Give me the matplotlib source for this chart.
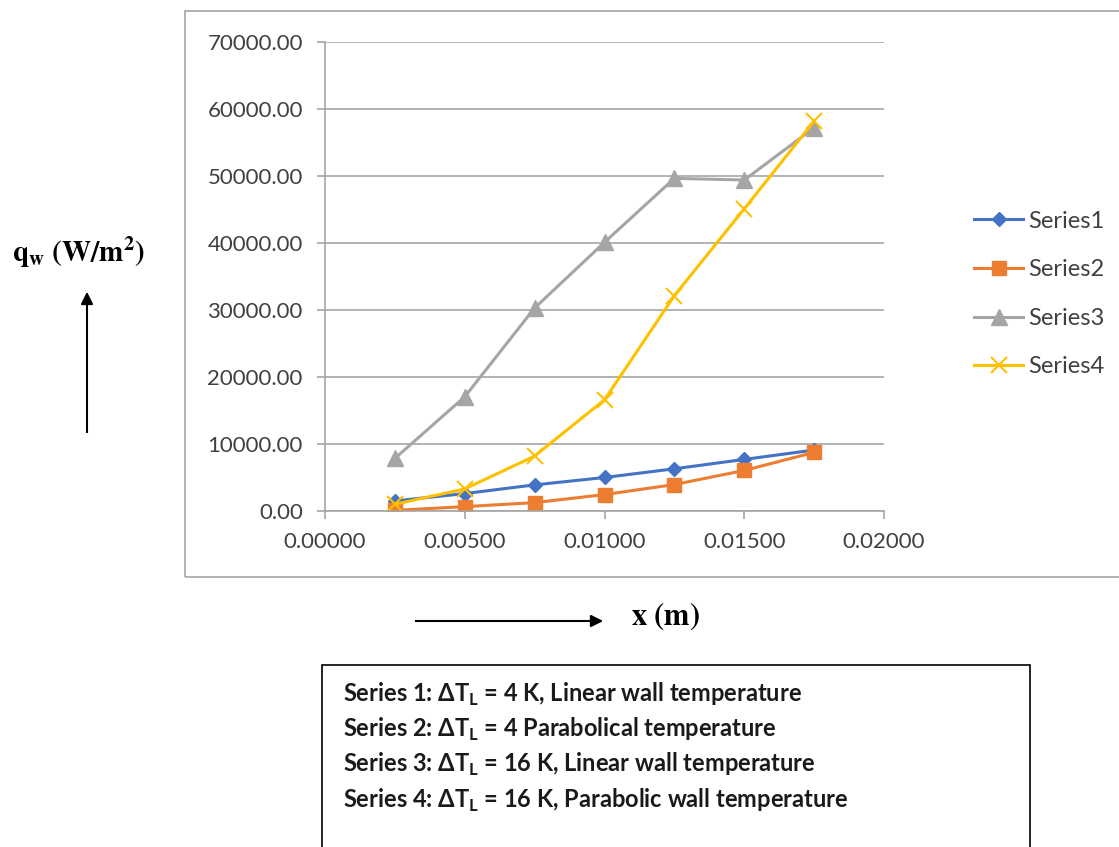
import matplotlib

matplotlib.use('Agg')
import matplotlib.pyplot as plt
from matplotlib.patches import Rectangle
from matplotlib.ticker import FormatStrFormatter, MultipleLocator

# wall heat flux along the plate, four wall temperature cases
x_pos = [0.0025, 0.0050, 0.0075, 0.0100, 0.0125, 0.0150, 0.0175]
series1 = [1500, 2600, 3900, 5000, 6300, 7700, 9100]
series2 = [100, 650, 1250, 2450, 3950, 6050, 8750]
series3 = [7850, 17050, 30300, 40100, 49650, 49400, 57200]
series4 = [1000, 3300, 8200, 16600, 32150, 45100, 58200]
series_names = ['Series1', 'Series2', 'Series3', 'Series4']
notes = [
    r'Series 1: $\Delta$T$_\mathbf{L}$ = 4 K, Linear wall temperature',
    r'Series 2: $\Delta$T$_\mathbf{L}$ = 4 Parabolical temperature',
    r'Series 3: $\Delta$T$_\mathbf{L}$ = 16 K, Linear wall temperature',
    r'Series 4: $\Delta$T$_\mathbf{L}$ = 16 K, Parabolic wall temperature',
]

W, H = 1119, 847
plt.rcParams['font.family'] = ['Lato', 'DejaVu Sans']
plt.rcParams['mathtext.fontset'] = 'custom'
plt.rcParams['mathtext.bf'] = 'Lato:bold'
plt.rcParams['mathtext.rm'] = 'Lato:bold'

fig = plt.figure(figsize=(W / 100, H / 100), dpi=100)


def fx(px):
    return px / W


def fy(py):
    return 1 - py / H


# chart frame
fig.patches.append(Rectangle((fx(185), fy(577)), fx(1125) - fx(185), fy(11) - fy(577),
                             transform=fig.transFigure, fill=False, ec='#a6a6a6', lw=1.2))

ax = fig.add_axes([fx(325), fy(511), fx(884) - fx(325), fy(42) - fy(511)])
grey = '#a6a6a6'
txt = '#404040'

ax.plot(x_pos, series1, color='#4472c4', lw=2.2, marker='D', ms=7, label=series_names[0])
ax.plot(x_pos, series2, color='#ed7d31', lw=2.2, marker='s', ms=10, label=series_names[1])
ax.plot(x_pos, series3, color='#a5a5a5', lw=2.2, marker='^', ms=11, label=series_names[2])
ax.plot(x_pos, series4, color='#ffc000', lw=2.2, marker='x', ms=11, mew=1.5, label=series_names[3])

ax.set_xlim(0, 0.02)
ax.set_ylim(0, 70000)
ax.xaxis.set_major_locator(MultipleLocator(0.005))
ax.yaxis.set_major_locator(MultipleLocator(10000))
ax.xaxis.set_major_formatter(FormatStrFormatter('%.5f'))
ax.yaxis.set_major_formatter(FormatStrFormatter('%.2f'))
ax.grid(True, axis='y', color=grey, lw=1.2)
ax.set_axisbelow(True)
for side in ('top', 'right'):
    ax.spines[side].set_visible(False)
for side in ('left', 'bottom'):
    ax.spines[side].set_color(grey)
    ax.spines[side].set_linewidth(1.2)
ax.tick_params(axis='both', direction='out', length=6, width=1.2, color=grey,
               labelsize=16, labelcolor=txt)
ax.tick_params(axis='y', pad=10)
ax.tick_params(axis='x', pad=9)

leg = ax.legend(loc='center left', bbox_to_anchor=(fx(962), fy(294)), bbox_transform=fig.transFigure,
                frameon=False, fontsize=17, handlelength=2.1, handletextpad=0.2, labelspacing=1.17,
                labelcolor=txt, borderpad=0)

# axis titles with arrows
fig.text(fx(79), fy(253), r'$\mathbf{q}_\mathbf{w}\ \mathbf{(W/m}^\mathbf{2}\mathbf{)}$',
         ha='center', va='center', fontsize=21, math_fontfamily='stix')
fig.text(fx(665), fy(616), r'$\mathbf{x\ (m)}$', ha='center', va='center', fontsize=22,
         math_fontfamily='stix')
fig.add_artist(plt.Line2D([fx(87), fx(87)], [fy(432), fy(300)], color='black', lw=1.5))
ax.annotate('', xy=(fx(87), fy(289)), xytext=(fx(87), fy(305)), xycoords='figure fraction',
            arrowprops=dict(arrowstyle='-|>', color='black', lw=1.5, mutation_scale=18))
fig.add_artist(plt.Line2D([fx(416), fx(594)], [fy(621), fy(621)], color='black', lw=1.5))
ax.annotate('', xy=(fx(606), fy(621)), xytext=(fx(590), fy(621)), xycoords='figure fraction',
            arrowprops=dict(arrowstyle='-|>', color='black', lw=1.5, mutation_scale=18))

# case description box
fig.patches.append(Rectangle((fx(322), fy(860)), fx(1030) - fx(322), fy(665) - fy(860),
                             transform=fig.transFigure, fill=False, ec='black', lw=1.2))
for i, line in enumerate(notes):
    fig.text(fx(343), fy(694 + 35.3 * i), line, ha='left', va='center', fontsize=17,
             fontweight='bold', color='#1a1a1a')

fig.savefig('out.png', dpi=100)
